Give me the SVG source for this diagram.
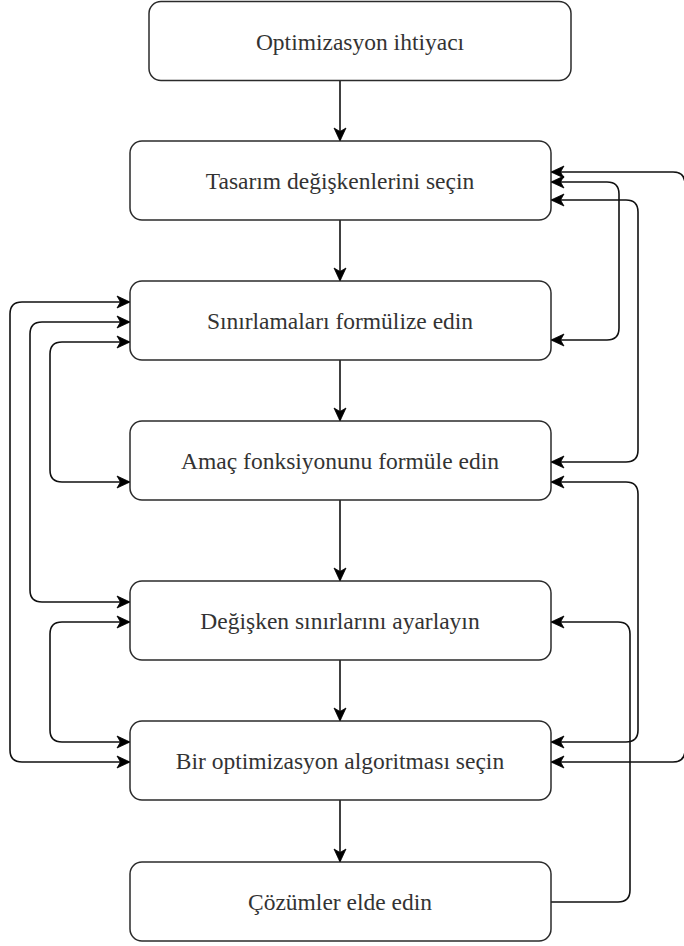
<svg xmlns="http://www.w3.org/2000/svg" width="684" height="946" viewBox="0 0 684 946">
<style>
.box{fill:#fff;stroke:#2b2b2b;stroke-width:1.5}
.lbl{font-family:"Liberation Serif","Times New Roman",serif;font-size:23.5px;fill:#333;text-anchor:middle}
.c{fill:none;stroke:#111;stroke-width:1.6}
.b{marker-start:url(#ah);marker-end:url(#ah)}
.e{marker-end:url(#ah)}
</style>
<defs>
<marker id="ah" markerUnits="userSpaceOnUse" viewBox="-15 -8 16 16" refX="0" refY="0" markerWidth="16" markerHeight="16" orient="auto-start-reverse">
<path d="M-13,-6 L0,0 L-13,6 L-9.5,0 z" fill="#000" stroke="#000" stroke-width="0.8" stroke-linejoin="miter"/>
</marker>
</defs>
<g id="connectors">
<path class="c e" d="M340,80.5 V141"/>
<path class="c e" d="M340,220 V281"/>
<path class="c e" d="M340,360 V421"/>
<path class="c e" d="M340,500 V581"/>
<path class="c e" d="M340,660 V721"/>
<path class="c e" d="M340,800 V862"/>
<path class="c b" d="M551,182 H607 Q619,182 619,194 V328 Q619,340 607,340 H551"/>
<path class="c b" d="M551,200 H626 Q638,200 638,212 V450 Q638,462 626,462 H551"/>
<path class="c b" d="M551,482 H626 Q638,482 638,494 V730 Q638,742 626,742 H551"/>
<path class="c e" d="M551,902 H618 Q630,902 630,890 V634 Q630,622 618,622 H551"/>
<path class="c b" d="M551,172 H673 Q685,172 685,184 V750 Q685,762 673,762 H551"/>
<path class="c b" d="M130,302 H22 Q10,302 10,314 V750 Q10,762 22,762 H130"/>
<path class="c b" d="M130,322 H42 Q30,322 30,334 V590 Q30,602 42,602 H130"/>
<path class="c b" d="M130,342 H62 Q50,342 50,354 V470 Q50,482 62,482 H130"/>
<path class="c b" d="M130,622 H62 Q50,622 50,634 V730 Q50,742 62,742 H130"/>
</g>
<g id="n1"><rect class="box" x="149" y="1.5" width="422" height="79" rx="12"/><text class="lbl" x="360" y="49.5">Optimizasyon ihtiyacı</text></g>
<g id="n2"><rect class="box" x="130" y="141" width="421" height="79" rx="12"/><text class="lbl" x="340" y="189">Tasarım değişkenlerini seçin</text></g>
<g id="n3"><rect class="box" x="130" y="281" width="421" height="79" rx="12"/><text class="lbl" x="340" y="329">Sınırlamaları formülize edin</text></g>
<g id="n4"><rect class="box" x="130" y="421" width="421" height="79" rx="12"/><text class="lbl" x="340" y="469">Amaç fonksiyonunu formüle edin</text></g>
<g id="n5"><rect class="box" x="130" y="581" width="421" height="79" rx="12"/><text class="lbl" x="340" y="629">Değişken sınırlarını ayarlayın</text></g>
<g id="n6"><rect class="box" x="130" y="721" width="421" height="79" rx="12"/><text class="lbl" x="340" y="769">Bir optimizasyon algoritması seçin</text></g>
<g id="n7"><rect class="box" x="130" y="862" width="421" height="79" rx="12"/><text class="lbl" x="340" y="910">Çözümler elde edin</text></g>
</svg>
